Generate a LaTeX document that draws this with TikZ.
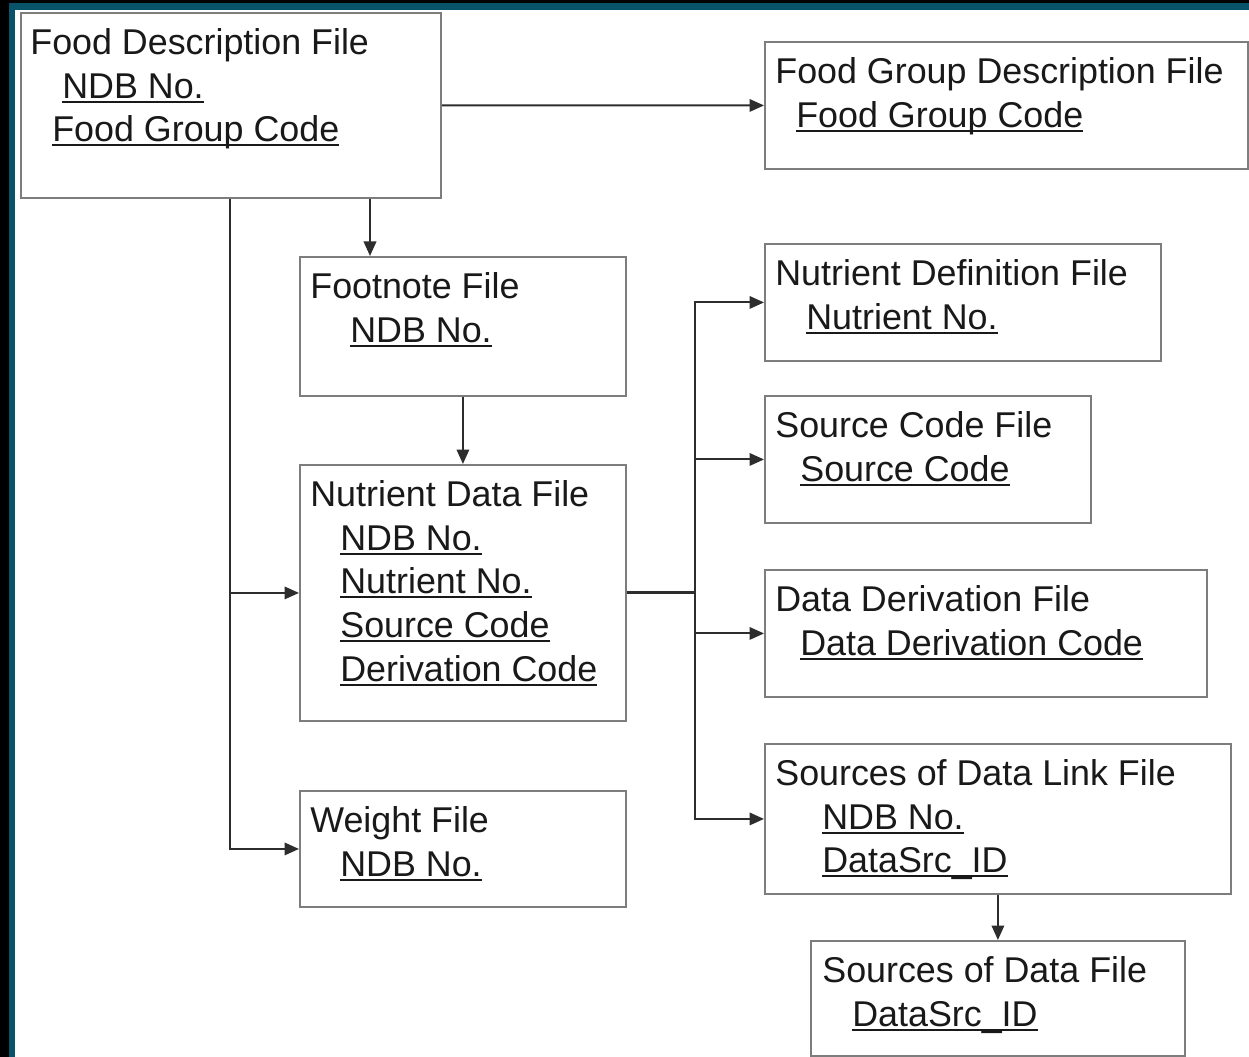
\documentclass[tikz,border=0pt]{standalone}
\usepackage{fontspec}
\setmainfont{Liberation Sans}
\usetikzlibrary{arrows.meta,calc}

\definecolor{frameteal}{RGB}{8,82,106}
\definecolor{boxline}{RGB}{125,125,125}
\definecolor{linkline}{RGB}{45,45,45}

% underlined key field, first line of a box
\newcommand{\keyfield}[1]{\setbox0=\hbox{#1}\rlap{\rule[-0.09cm]{\wd0}{0.04cm}}\box0}
\newcommand{\filetitle}[1]{\rule{0pt}{0.85cm}#1}

\begin{document}
\begin{tikzpicture}[x=0.02cm,y=-0.02cm,
    filebox/.style={draw=boxline,line width=1.1pt,inner sep=0pt,anchor=north west},
    filetext/.style={anchor=north west,inner sep=0pt,align=left,text=black!90,
        font=\fontsize{20.4}{24.8}\selectfont},
    link/.style={draw=linkline,line width=1.1pt,-{Triangle[length=0.29cm,width=0.25cm]}}]
    % frame
    \fill[black](0,0) rectangle (1249,1057);
    \fill[frameteal](9,3) rectangle (1249,1057);
    \fill[white](15,10) rectangle (1249,1057);
    % boxes
    \node[filebox,minimum width=8.4cm,minimum height=3.7cm] (fdesc) at (20,12) {};
    \node[filebox,minimum width=9.66cm,minimum height=2.54cm] (fgroup) at (764,41) {};
    \node[filebox,minimum width=6.52cm,minimum height=2.78cm] (fnote) at (299,256) {};
    \node[filebox,minimum width=6.52cm,minimum height=5.12cm] (ndata) at (299,464) {};
    \node[filebox,minimum width=6.52cm,minimum height=2.32cm] (weight) at (299,790) {};
    \node[filebox,minimum width=7.92cm,minimum height=2.34cm] (ndef) at (764,243) {};
    \node[filebox,minimum width=6.52cm,minimum height=2.54cm] (scode) at (764,395) {};
    \node[filebox,minimum width=8.84cm,minimum height=2.54cm] (dderiv) at (764,569) {};
    \node[filebox,minimum width=9.32cm,minimum height=3cm] (slink) at (764,743) {};
    \node[filebox,minimum width=7.48cm,minimum height=2.3cm] (sdata) at (810,940) {};
    % texts
    \node[filetext] (fdesc-txt) at ($(fdesc.north west)+(10,0)$) {\filetitle{Food Description File}\\
        \hspace*{0.64cm}\keyfield{NDB No.}\\ \hspace*{0.44cm}\keyfield{Food Group Code}};
    \node[filetext] (fgroup-txt) at ($(fgroup.north west)+(11,0)$) {\filetitle{Food Group Description File}\\
        \hspace*{0.42cm}\keyfield{Food Group Code}};
    \node[filetext] (fnote-txt) at ($(fnote.north west)+(11,0)$) {\filetitle{Footnote File}\\
        \hspace*{0.8cm}\keyfield{NDB No.}};
    \node[filetext] (ndata-txt) at ($(ndata.north west)+(11,0)$) {\filetitle{Nutrient Data File}\\
        \hspace*{0.6cm}\keyfield{NDB No.}\\ \hspace*{0.6cm}\keyfield{Nutrient No.}\\
        \hspace*{0.6cm}\keyfield{Source Code}\\ \hspace*{0.6cm}\keyfield{Derivation Code}};
    \node[filetext] (weight-txt) at ($(weight.north west)+(11,0)$) {\filetitle{Weight File}\\
        \hspace*{0.6cm}\keyfield{NDB No.}};
    \node[filetext] (ndef-txt) at ($(ndef.north west)+(11,0)$) {\filetitle{Nutrient Definition File}\\
        \hspace*{0.62cm}\keyfield{Nutrient No.}};
    \node[filetext] (scode-txt) at ($(scode.north west)+(11,0)$) {\filetitle{Source Code File}\\
        \hspace*{0.5cm}\keyfield{Source Code}};
    \node[filetext] (dderiv-txt) at ($(dderiv.north west)+(11,0)$) {\filetitle{Data Derivation File}\\
        \hspace*{0.5cm}\keyfield{Data Derivation Code}};
    \node[filetext] (slink-txt) at ($(slink.north west)+(11,0)$) {\filetitle{Sources of Data Link File}\\
        \hspace*{0.94cm}\keyfield{NDB No.}\\ \hspace*{0.94cm}\keyfield{DataSrc\_ID}};
    \node[filetext] (sdata-txt) at ($(sdata.north west)+(12,0)$) {\filetitle{Sources of Data File}\\
        \hspace*{0.6cm}\keyfield{DataSrc\_ID}};
    % connectors
    \coordinate (lbus) at (230,0);
    \coordinate (rbus) at (695,0);
    \coordinate (fnote-in) at ($(fnote.north west)+(71,0)$);
    \draw[link](fdesc.east)--(fgroup.west);
    \draw[link](fdesc.south -| fnote-in)--(fnote-in);
    \draw[link](fdesc.south -| lbus)|-(weight.west);
    \draw[link](ndata.west -| lbus)--(ndata.west);
    \draw[link](fnote.south)--(ndata.north);
    \draw[draw=linkline,line width=1.7pt](ndata.east)--(ndata.east -| rbus);
    \draw[link](ndata.east -| rbus)|-(ndef.west);
    \draw[link](ndata.east -| rbus)|-(scode.west);
    \draw[link](ndata.east -| rbus)|-(dderiv.west);
    \draw[link](ndata.east -| rbus)|-(slink.west);
    \draw[link](slink.south)--(slink.south |- sdata.north);
\end{tikzpicture}
\end{document}
